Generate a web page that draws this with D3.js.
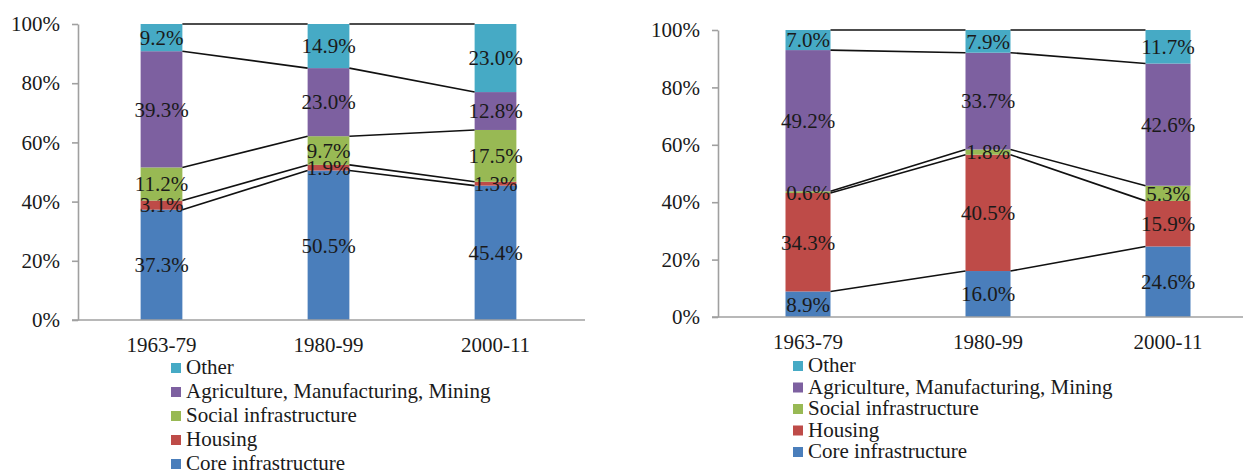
<!DOCTYPE html>
<html>
<head>
<meta charset="utf-8">
<script src="https://cdn.jsdelivr.net/npm/d3@7"></script>
<style>
  html, body { margin: 0; padding: 0; background: #fff; }
  svg { display: block; }
  svg text { font-family: "Liberation Serif", Tinos, "Times New Roman", Times, "DejaVu Serif", "Noto Serif", serif !important; fill: #1a1a1a; }
</style>
</head>
<body>
<svg id="chart" width="1243" height="471"></svg>
<script>
// ---- data ----
const categories = ["1963-79", "1980-99", "2000-11"];
const seriesNames = ["Core infrastructure", "Housing", "Social infrastructure", "Agriculture, Manufacturing, Mining", "Other"];
const seriesColors = ["#4A7EBB", "#BE4B48", "#98B954", "#7D60A0", "#46AAC5"];
const yTicks = [0, 20, 40, 60, 80, 100];

// left panel
const leftCore    = [37.3, 50.5, 45.4];
const leftHousing = [3.1, 1.9, 1.3];
const leftSocial  = [11.2, 9.7, 17.5];
const leftAgri    = [39.3, 23.0, 12.8];
const leftOther   = [9.2, 14.9, 23.0];

// right panel
const rightCore    = [8.9, 16.0, 24.6];
const rightHousing = [34.3, 40.5, 15.9];
const rightSocial  = [0.6, 1.8, 5.3];
const rightAgri    = [49.2, 33.7, 42.6];
const rightOther   = [7.0, 7.9, 11.7];

const svg = d3.select("#chart");
const FONT = "'Liberation Serif', Tinos, 'Times New Roman', Times, 'DejaVu Serif', serif";

function drawPanel(cfg, seriesValues) {
  const g = svg.append("g");
  const rows = categories.map((c, i) => {
    const r = { cat: c };
    seriesNames.forEach((s, k) => r[s] = seriesValues[k][i]);
    return r;
  });
  const stacked = d3.stack().keys(seriesNames).offset(d3.stackOffsetExpand)(rows);

  const x = d3.scaleBand().domain(categories).range([cfg.x0, cfg.x1]).paddingInner(0.75).paddingOuter(0.375);
  const y = d3.scaleLinear().domain([0, 1]).range([cfg.yBottom, cfg.yTop]);
  const bw = x.bandwidth();

  // bars
  stacked.forEach((layer, k) => {
    g.append("g").selectAll("rect").data(layer).enter().append("rect")
      .attr("x", d => x(d.data.cat))
      .attr("width", bw)
      .attr("y", d => y(d[1]))
      .attr("height", d => y(d[0]) - y(d[1]))
      .attr("fill", seriesColors[k]);
  });

  // series lines
  stacked.forEach(layer => {
    for (let i = 0; i < layer.length - 1; i++) {
      g.append("line")
        .attr("x1", x(layer[i].data.cat) + bw)
        .attr("y1", y(layer[i][1]))
        .attr("x2", x(layer[i + 1].data.cat))
        .attr("y2", y(layer[i + 1][1]))
        .attr("stroke", "#111")
        .attr("stroke-width", 1.6);
    }
  });

  // y axis
  const ya = g.append("g").attr("transform", `translate(${cfg.x0},0)`)
    .call(d3.axisLeft(d3.scaleLinear().domain([0, 100]).range([cfg.yBottom, cfg.yTop]))
      .tickValues(yTicks).tickSize(6).tickSizeOuter(0).tickPadding(12)
      .tickFormat(d => d + "%"));
  ya.attr("font-family", FONT);
  ya.selectAll("path, line").attr("stroke", "#A0A0A0").attr("stroke-width", 1.6);
  ya.selectAll("text").attr("font-size", 21).attr("fill", "#1a1a1a");

  // x axis
  g.append("line")
    .attr("x1", cfg.x0 - 6).attr("x2", cfg.axisEnd)
    .attr("y1", cfg.yBottom).attr("y2", cfg.yBottom)
    .attr("stroke", "#A0A0A0").attr("stroke-width", 1.6);
  const xa = g.append("g").attr("transform", `translate(0,${cfg.yBottom})`)
    .call(d3.axisBottom(x).tickSize(0).tickPadding(17));
  xa.attr("font-family", FONT);
  xa.select(".domain").remove();
  xa.selectAll("text").attr("font-size", 21).attr("fill", "#1a1a1a");

  // data labels
  stacked.forEach((layer, k) => {
    g.append("g").selectAll("text").data(layer).enter().append("text")
      .attr("x", d => x(d.data.cat) + bw / 2)
      .attr("y", d => (y(d[0]) + y(d[1])) / 2)
      .attr("dy", "0.35em")
      .attr("text-anchor", "middle")
      .attr("font-family", FONT)
      .attr("font-size", 21)
      .text(d => d3.format(".1f")(d.data[seriesNames[k]]) + "%");
  });

  // legend (reversed order)
  const lg = g.append("g");
  const order = d3.range(seriesNames.length).reverse();
  order.forEach((k, j) => {
    const base = cfg.legY + j * cfg.legStep;
    lg.append("rect")
      .attr("x", cfg.legX).attr("y", base - 11)
      .attr("width", 10).attr("height", 10)
      .attr("fill", seriesColors[k]);
    lg.append("text")
      .attr("x", cfg.legX + 15).attr("y", base)
      .attr("font-family", FONT)
      .attr("font-size", 21)
      .text(seriesNames[k]);
  });
}

drawPanel({ x0: 78, x1: 579, axisEnd: 585, yTop: 24, yBottom: 320, legX: 171, legY: 374, legStep: 24 },
  [leftCore, leftHousing, leftSocial, leftAgri, leftOther]);
drawPanel({ x0: 718, x1: 1258, axisEnd: 1243, yTop: 30, yBottom: 317, legX: 793, legY: 372, legStep: 21.5 },
  [rightCore, rightHousing, rightSocial, rightAgri, rightOther]);
</script>
</body>
</html>
